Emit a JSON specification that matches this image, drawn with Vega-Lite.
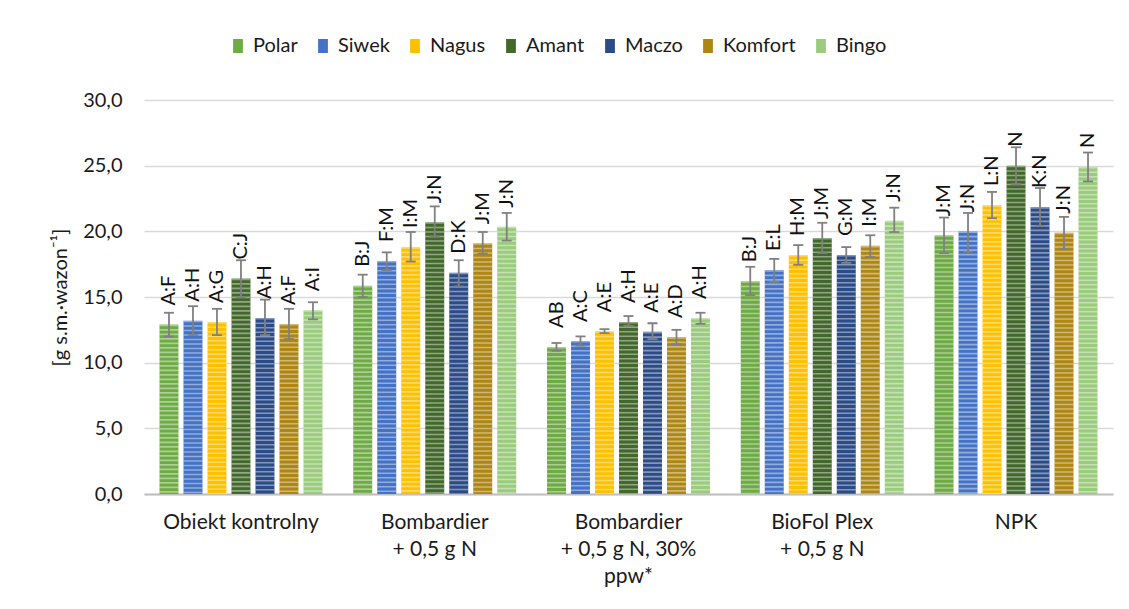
{
  "$schema": "https://vega.github.io/schema/vega-lite/v6.json",
  "autosize": "none",
  "width": 969,
  "height": 394,
  "padding": {"left": 144, "top": 100, "right": 16, "bottom": 115},
  "background": "white",
  "config": {
    "font": "Lato",
    "view": {"stroke": null},
    "locale": {"number": {"decimal": ",", "thousands": " ", "grouping": [3], "currency": ["", " zł"]}}
  },
  "data": {
    "values": [
      {"grupa": "Obiekt kontrolny", "odmiana": "Polar", "masa": 12.9, "lo": 12.0, "hi": 13.8, "litery": "A:F"},
      {"grupa": "Obiekt kontrolny", "odmiana": "Siwek", "masa": 13.2, "lo": 12.1, "hi": 14.3, "litery": "A:H"},
      {"grupa": "Obiekt kontrolny", "odmiana": "Nagus", "masa": 13.1, "lo": 12.1, "hi": 14.1, "litery": "A:G"},
      {"grupa": "Obiekt kontrolny", "odmiana": "Amant", "masa": 16.4, "lo": 15.0, "hi": 17.8, "litery": "C:J"},
      {"grupa": "Obiekt kontrolny", "odmiana": "Maczo", "masa": 13.4, "lo": 12.1, "hi": 14.8, "litery": "A:H"},
      {"grupa": "Obiekt kontrolny", "odmiana": "Komfort", "masa": 12.95, "lo": 11.8, "hi": 14.1, "litery": "A:F"},
      {"grupa": "Obiekt kontrolny", "odmiana": "Bingo", "masa": 14.0, "lo": 13.3, "hi": 14.6, "litery": "A:I"},

      {"grupa": "Bombardier\n+ 0,5 g N", "odmiana": "Polar", "masa": 15.85, "lo": 15.0, "hi": 16.7, "litery": "B:J"},
      {"grupa": "Bombardier\n+ 0,5 g N", "odmiana": "Siwek", "masa": 17.75, "lo": 17.05, "hi": 18.4, "litery": "F:M"},
      {"grupa": "Bombardier\n+ 0,5 g N", "odmiana": "Nagus", "masa": 18.8, "lo": 17.7, "hi": 19.95, "litery": "I:M"},
      {"grupa": "Bombardier\n+ 0,5 g N", "odmiana": "Amant", "masa": 20.7, "lo": 19.6, "hi": 21.9, "litery": "J:N"},
      {"grupa": "Bombardier\n+ 0,5 g N", "odmiana": "Maczo", "masa": 16.85, "lo": 15.8, "hi": 17.8, "litery": "D:K"},
      {"grupa": "Bombardier\n+ 0,5 g N", "odmiana": "Komfort", "masa": 19.1, "lo": 18.3, "hi": 19.95, "litery": "J:M"},
      {"grupa": "Bombardier\n+ 0,5 g N", "odmiana": "Bingo", "masa": 20.35, "lo": 19.3, "hi": 21.4, "litery": "J:N"},

      {"grupa": "Bombardier\n+ 0,5 g N, 30%\nppw*", "odmiana": "Polar", "masa": 11.2, "lo": 10.9, "hi": 11.5, "litery": "AB"},
      {"grupa": "Bombardier\n+ 0,5 g N, 30%\nppw*", "odmiana": "Siwek", "masa": 11.65, "lo": 11.3, "hi": 12.0, "litery": "A:C"},
      {"grupa": "Bombardier\n+ 0,5 g N, 30%\nppw*", "odmiana": "Nagus", "masa": 12.4, "lo": 12.25, "hi": 12.55, "litery": "A:E"},
      {"grupa": "Bombardier\n+ 0,5 g N, 30%\nppw*", "odmiana": "Amant", "masa": 13.1, "lo": 12.8, "hi": 13.55, "litery": "A:H"},
      {"grupa": "Bombardier\n+ 0,5 g N, 30%\nppw*", "odmiana": "Maczo", "masa": 12.35, "lo": 11.8, "hi": 13.0, "litery": "A:E"},
      {"grupa": "Bombardier\n+ 0,5 g N, 30%\nppw*", "odmiana": "Komfort", "masa": 11.95, "lo": 11.4, "hi": 12.5, "litery": "A:D"},
      {"grupa": "Bombardier\n+ 0,5 g N, 30%\nppw*", "odmiana": "Bingo", "masa": 13.4, "lo": 12.95, "hi": 13.8, "litery": "A:H"},

      {"grupa": "BioFol Plex\n+ 0,5 g N", "odmiana": "Polar", "masa": 16.2, "lo": 15.15, "hi": 17.3, "litery": "B:J"},
      {"grupa": "BioFol Plex\n+ 0,5 g N", "odmiana": "Siwek", "masa": 17.05, "lo": 16.15, "hi": 17.9, "litery": "E:L"},
      {"grupa": "BioFol Plex\n+ 0,5 g N", "odmiana": "Nagus", "masa": 18.2, "lo": 17.45, "hi": 18.95, "litery": "H:M"},
      {"grupa": "BioFol Plex\n+ 0,5 g N", "odmiana": "Amant", "masa": 19.5, "lo": 18.35, "hi": 20.65, "litery": "J:M"},
      {"grupa": "BioFol Plex\n+ 0,5 g N", "odmiana": "Maczo", "masa": 18.2, "lo": 17.6, "hi": 18.8, "litery": "G:M"},
      {"grupa": "BioFol Plex\n+ 0,5 g N", "odmiana": "Komfort", "masa": 18.9, "lo": 18.05, "hi": 19.7, "litery": "I:M"},
      {"grupa": "BioFol Plex\n+ 0,5 g N", "odmiana": "Bingo", "masa": 20.8, "lo": 19.95, "hi": 21.8, "litery": "J:N"},

      {"grupa": "NPK", "odmiana": "Polar", "masa": 19.7, "lo": 18.35, "hi": 21.05, "litery": "J:M"},
      {"grupa": "NPK", "odmiana": "Siwek", "masa": 20.0, "lo": 18.45, "hi": 21.4, "litery": "J:N"},
      {"grupa": "NPK", "odmiana": "Nagus", "masa": 22.0, "lo": 21.0, "hi": 23.0, "litery": "L:N"},
      {"grupa": "NPK", "odmiana": "Amant", "masa": 25.0, "lo": 23.6, "hi": 26.4, "litery": "N"},
      {"grupa": "NPK", "odmiana": "Maczo", "masa": 21.85, "lo": 20.4, "hi": 23.3, "litery": "K:N"},
      {"grupa": "NPK", "odmiana": "Komfort", "masa": 19.9, "lo": 18.65, "hi": 21.1, "litery": "J:N"},
      {"grupa": "NPK", "odmiana": "Bingo", "masa": 24.9, "lo": 23.8, "hi": 26.0, "litery": "N"}
    ]
  },
  "encoding": {
    "x": {
      "field": "grupa",
      "type": "nominal",
      "sort": null,
      "scale": {"paddingInner": 0.159, "paddingOuter": 0.08},
      "axis": {
        "title": null,
        "labelAngle": 0,
        "labelExpr": "split(datum.label, '\\n')",
        "labelLineHeight": 27,
        "labelBaseline": "top",
        "labelFontSize": 21,
        "labelColor": "#1a1a1a",
        "labelPadding": 17,
        "ticks": false,
        "domainColor": "#BFBFBF",
        "domainWidth": 2
      }
    },
    "xOffset": {
      "field": "odmiana",
      "type": "nominal",
      "sort": ["Polar", "Siwek", "Nagus", "Amant", "Maczo", "Komfort", "Bingo"],
      "scale": {"paddingInner": 0.21, "paddingOuter": 0}
    }
  },
  "layer": [
    {
      "mark": {"type": "bar"},
      "encoding": {
        "y": {
          "field": "masa",
          "type": "quantitative",
          "scale": {"domain": [0, 30], "nice": false},
          "axis": {
            "title": "[g s.m.·wazon⁻¹]",
            "titleFontSize": 20,
            "titleFontWeight": "normal",
            "titleColor": "#1a1a1a",
            "titlePadding": 12,
            "values": [0, 5, 10, 15, 20, 25, 30],
            "format": ".1f",
            "labelFontSize": 20,
            "labelColor": "#1a1a1a",
            "labelPadding": 22,
            "ticks": false,
            "domain": false,
            "grid": true,
            "gridColor": "#D9D9D9",
            "gridWidth": 1.3
          }
        },
        "color": {
          "field": "odmiana",
          "type": "nominal",
          "sort": ["Polar", "Siwek", "Nagus", "Amant", "Maczo", "Komfort", "Bingo"],
          "scale": {
            "domain": ["Polar", "Siwek", "Nagus", "Amant", "Maczo", "Komfort", "Bingo"],
            "range": ["#6EAB45", "#4472C4", "#FFC000", "#43682B", "#2C4C88", "#AD8614", "#9BCC7E"]
          },
          "legend": {
            "title": null,
            "orient": "none",
            "legendX": 84,
            "legendY": -64,
            "direction": "horizontal",
            "columns": 7,
            "columnPadding": 15,
            "labelFontSize": 20,
            "labelColor": "#1a1a1a",
            "labelOffset": 5,
            "symbolType": "M-0.7,-1H0.7V1H-0.7Z",
            "symbolSize": 196,
            "symbolStrokeWidth": 0
          }
        }
      }
    },
    {
      "mark": {"type": "rule", "color": "white", "opacity": 0.42, "strokeWidth": 19, "strokeDash": [1.6, 2.9], "strokeCap": "butt"},
      "encoding": {
        "y": {"field": "masa", "type": "quantitative"},
        "y2": {"datum": 0}
      }
    },
    {
      "mark": {"type": "rule", "color": "#808080", "strokeWidth": 1.8},
      "encoding": {
        "y": {"field": "lo", "type": "quantitative"},
        "y2": {"field": "hi"}
      }
    },
    {
      "mark": {"type": "tick", "color": "#808080", "thickness": 1.8, "size": 10, "orient": "horizontal", "opacity": 1},
      "encoding": {
        "y": {"field": "lo", "type": "quantitative"}
      }
    },
    {
      "mark": {"type": "tick", "color": "#808080", "thickness": 1.8, "size": 10, "orient": "horizontal", "opacity": 1},
      "encoding": {
        "y": {"field": "hi", "type": "quantitative"}
      }
    },
    {
      "mark": {"type": "text", "angle": 270, "align": "left", "baseline": "middle", "dx": 19, "fontSize": 20, "color": "#111111"},
      "encoding": {
        "y": {"field": "masa", "type": "quantitative"},
        "text": {"field": "litery", "type": "nominal"}
      }
    }
  ]
}
